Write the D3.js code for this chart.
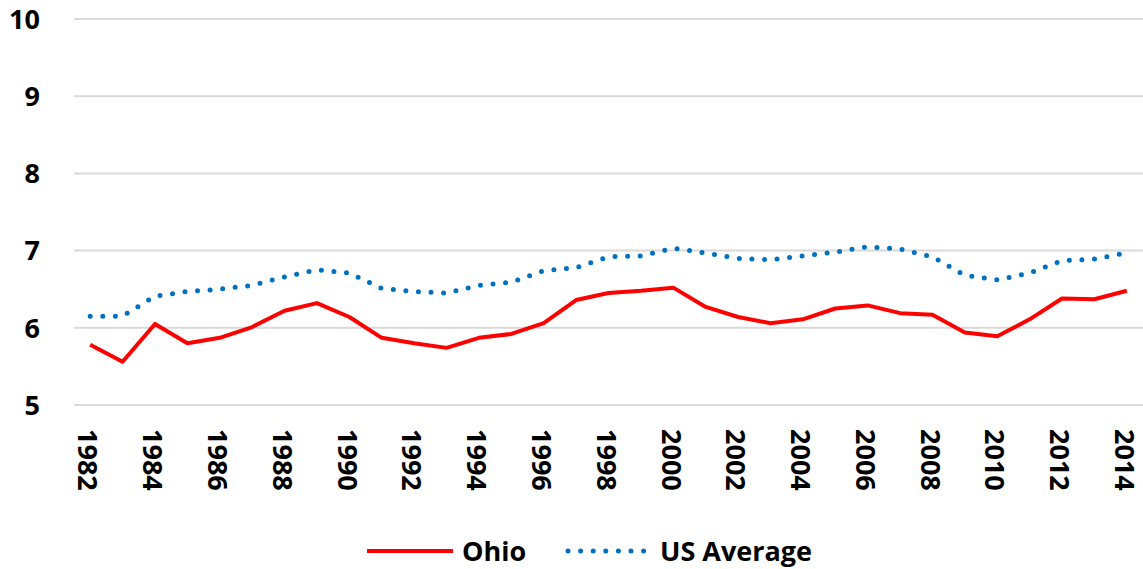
<!DOCTYPE html>
<html>
<head>
<meta charset="utf-8">
<script src="https://cdn.jsdelivr.net/npm/d3@7"></script>
<style>
  body { margin: 0; background: #fff; }
  text { font-family: "Open Sans", Lato, sans-serif; font-weight: bold; fill: #000; }
</style>
</head>
<body>
<div id="chart"></div>
<script>
// years on the category axis
var years = d3.range(1982, 2015);
var yearLabels = years.filter(function(y) { return y % 2 === 0; });

// series values
var ohio = [5.78, 5.56, 6.05, 5.80, 5.87, 6.01, 6.22, 6.32, 6.14, 5.87,
            5.80, 5.74, 5.87, 5.92, 6.06, 6.36, 6.45, 6.48, 6.52, 6.27,
            6.14, 6.06, 6.11, 6.25, 6.29, 6.19, 6.17, 5.94, 5.89, 6.11,
            6.38, 6.37, 6.48];
var usAverage = [6.15, 6.15, 6.41, 6.47, 6.50, 6.55, 6.66, 6.75, 6.71, 6.51,
                 6.47, 6.45, 6.55, 6.59, 6.74, 6.78, 6.92, 6.93, 7.03, 6.97,
                 6.90, 6.88, 6.93, 6.98, 7.05, 7.02, 6.92, 6.68, 6.62, 6.71,
                 6.87, 6.89, 6.97];
var yTicks = [5, 6, 7, 8, 9, 10];

var W = 1143, H = 569;
var margin = {top: 19, right: 0, bottom: 164, left: 74},
    width = W - margin.left - margin.right,
    height = H - margin.top - margin.bottom;

var svg = d3.select("#chart")
  .append("svg")
    .attr("width", W)
    .attr("height", H)
  .append("g")
    .attr("transform", "translate(" + margin.left + "," + margin.top + ")");

// category axis, points at band centres
var x = d3.scaleBand()
  .domain(years)
  .range([0, width]);
var xc = function(d) { return x(d) + x.bandwidth() / 2; };

var y = d3.scaleLinear()
  .domain([5, 10])
  .range([height, 0]);

// gridlines
svg.append("g")
  .selectAll("line")
  .data(yTicks)
  .join("line")
    .attr("x1", 0)
    .attr("x2", width)
    .attr("y1", function(d) { return y(d); })
    .attr("y2", function(d) { return y(d); })
    .attr("stroke", "#d9d9d9")
    .attr("stroke-width", 2);

// y labels
svg.append("g")
  .selectAll("text")
  .data(yTicks)
  .join("text")
    .attr("x", -34)
    .attr("y", function(d) { return y(d); })
    .attr("dy", "0.36em")
    .attr("text-anchor", "end")
    .attr("font-size", "27px")
    .text(function(d) { return d; });

// x labels, rotated
svg.append("g")
  .selectAll("text")
  .data(yearLabels)
  .join("text")
    .attr("transform", function(d) {
      return "translate(" + (xc(d) - 2) + "," + (height + 24) + ") rotate(90)";
    })
    .attr("dy", "0.36em")
    .attr("text-anchor", "start")
    .attr("font-size", "27px")
    .text(function(d) { return d; });

// US Average dotted line
svg.append("path")
  .datum(usAverage)
  .attr("fill", "none")
  .attr("stroke", "#0070c0")
  .attr("stroke-width", 5)
  .attr("stroke-linecap", "round")
  .attr("stroke-dasharray", "0,12.6")
  .attr("d", d3.line()
    .x(function(d, i) { return xc(years[i]); })
    .y(function(d) { return y(d); }));

// Ohio line
svg.append("path")
  .datum(ohio)
  .attr("fill", "none")
  .attr("stroke", "#ff0000")
  .attr("stroke-width", 4)
  .attr("stroke-linejoin", "round")
  .attr("d", d3.line()
    .x(function(d, i) { return xc(years[i]); })
    .y(function(d) { return y(d); }));

// legend
var legend = d3.select("svg").append("g");
legend.append("line")
  .attr("x1", 367).attr("x2", 453)
  .attr("y1", 551).attr("y2", 551)
  .attr("stroke", "#ff0000").attr("stroke-width", 4);
legend.append("text")
  .attr("x", 462).attr("y", 551).attr("dy", "0.36em")
  .attr("font-size", "27px")
  .text("Ohio");
legend.append("line")
  .attr("x1", 568).attr("x2", 646)
  .attr("y1", 551).attr("y2", 551)
  .attr("stroke", "#0070c0").attr("stroke-width", 5)
  .attr("stroke-linecap", "round")
  .attr("stroke-dasharray", "0,12.6");
legend.append("text")
  .attr("x", 660).attr("y", 551).attr("dy", "0.36em")
  .attr("font-size", "27px")
  .text("US Average");
</script>
</body>
</html>
